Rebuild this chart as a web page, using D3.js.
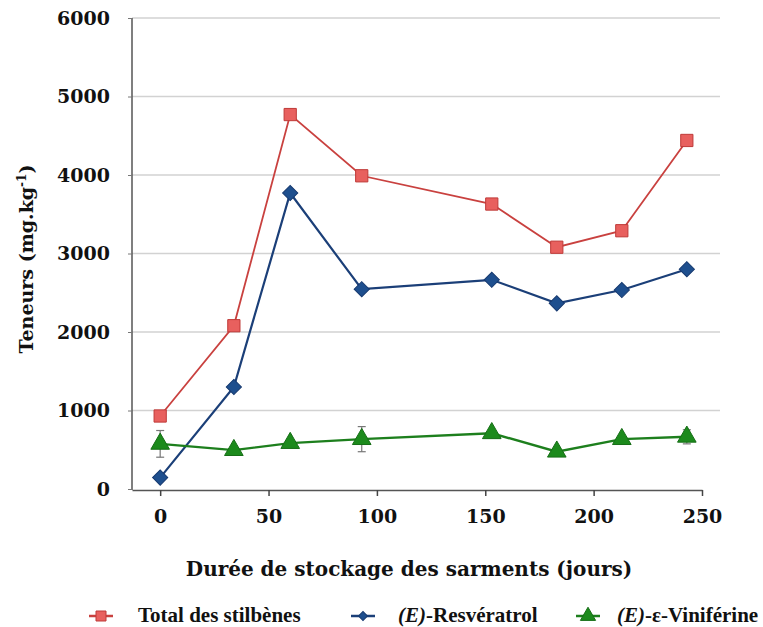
<!DOCTYPE html>
<html>
<head>
<meta charset="utf-8">
<script src="https://cdn.jsdelivr.net/npm/d3@7"></script>
<style>
  body { margin: 0; background: #fff; }
  svg text { font-family: "DejaVu Serif", serif; font-weight: bold; fill: #111; }
  .legend text { font-family: "Liberation Serif", serif; }
</style>
</head>
<body>
<div id="chart"></div>
<script>
var days = [0, 34, 60, 93, 153, 183, 213, 243];
var total = [930, 2080, 4770, 3990, 3630, 3080, 3290, 4440];
var resveratrol = [145, 1300, 3770, 2545, 2665, 2365, 2535, 2800];
var viniferine = [575, 495, 585, 635, 710, 475, 635, 665];
var viniferineErr = [170, 0, 0, 160, 0, 0, 0, 90];
var yTicks = [0, 1000, 2000, 3000, 4000, 5000, 6000];
var xTicks = [0, 50, 100, 150, 200, 250];

;(function(d3){
  var width = 763, height = 627;

  var svg = d3.select('#chart')
    .append('svg')
      .attr('width', width)
      .attr('height', height);

  var x = d3.scaleLinear().domain([-13, 250]).range([132, 702]);
  var y = d3.scaleLinear().domain([0, 6000]).range([489, 18]);

  // gridlines
  svg.append('g')
    .selectAll('line')
    .data(yTicks.filter(function(d){ return d > 0; }))
    .enter().append('line')
      .attr('x1', 132).attr('x2', 720)
      .attr('y1', function(d){ return y(d); })
      .attr('y2', function(d){ return y(d); })
      .attr('stroke', '#d2d2d2')
      .attr('stroke-width', 1.5);

  // y axis
  var yAxis = svg.append('g')
    .attr('transform', 'translate(132,0)')
    .call(d3.axisLeft(y).tickValues(yTicks).tickSize(4).tickFormat(d3.format('d')));
  yAxis.select('.domain').attr('stroke', '#555').attr('stroke-width', 1.5).attr('d', 'M0,18V490');
  yAxis.selectAll('.tick line').attr('stroke', '#777');
  yAxis.selectAll('.tick text')
    .attr('x', -22)
    .style('font-size', '19px')
    .style('font-family', '"DejaVu Serif", serif')
    .style('font-weight', 'bold')
    .attr('fill', '#111');

  // x axis
  var xAxis = svg.append('g')
    .attr('transform', 'translate(0,490)')
    .call(d3.axisBottom(x).tickValues(xTicks).tickSize(6).tickSizeOuter(0));
  xAxis.select('.domain').attr('stroke', '#555').attr('stroke-width', 1.5);
  xAxis.selectAll('.tick line').attr('stroke', '#444').attr('stroke-width', 1.5);
  xAxis.selectAll('.tick text')
    .attr('y', 20)
    .attr('dy', '0.71em')
    .style('font-size', '19px')
    .style('font-family', '"DejaVu Serif", serif')
    .style('font-weight', 'bold')
    .attr('fill', '#111');

  // titles
  svg.append('text')
    .attr('x', 409).attr('y', 576)
    .attr('text-anchor', 'middle')
    .style('font-size', '20px')
    .text('Durée de stockage des sarments (jours)');

  var yt = svg.append('text')
    .attr('transform', 'translate(33,259) rotate(-90)')
    .attr('text-anchor', 'middle')
    .style('font-size', '19px');
  yt.append('tspan').text('Teneurs (mg.kg');
  yt.append('tspan').attr('dy', -7).style('font-size', '12px').text('-1');
  yt.append('tspan').attr('dy', 7).text(')');

  var series = [
    { name: 'total', values: total, line: '#c9413f', fill: '#e8605e', stroke: '#bf3a38', symbol: d3.symbolSquare, size: 150, rot: 0, width: 1.8 },
    { name: 'resveratrol', values: resveratrol, line: '#1b3f78', fill: '#1e4f8e', stroke: '#173a70', symbol: d3.symbolSquare, size: 115, rot: 45, width: 2.2 },
    { name: 'viniferine', values: viniferine, line: '#1d7f1d', fill: '#1c8a1c', stroke: '#166e16', symbol: d3.symbolTriangle, size: 150, rot: 0, width: 2.4 }
  ];

  // error bars
  var err = svg.append('g');
  days.forEach(function(d, i){
    if (!viniferineErr[i]) return;
    var cx = x(d), lo = y(viniferine[i] - viniferineErr[i]), hi = y(viniferine[i] + viniferineErr[i]);
    err.append('line').attr('x1', cx).attr('x2', cx).attr('y1', lo).attr('y2', hi).attr('stroke', '#777').attr('stroke-width', 1.2);
    err.append('line').attr('x1', cx - 4).attr('x2', cx + 4).attr('y1', lo).attr('y2', lo).attr('stroke', '#777').attr('stroke-width', 1.2);
    err.append('line').attr('x1', cx - 4).attr('x2', cx + 4).attr('y1', hi).attr('y2', hi).attr('stroke', '#777').attr('stroke-width', 1.2);
  });

  var line = d3.line()
    .x(function(d){ return x(d[0]); })
    .y(function(d){ return y(d[1]); });

  series.forEach(function(s){
    var pts = days.map(function(d, i){ return [d, s.values[i]]; });
    svg.append('path')
      .attr('d', line(pts))
      .attr('fill', 'none')
      .attr('stroke', s.line)
      .attr('stroke-width', s.width);
    svg.append('g')
      .selectAll('path')
      .data(pts)
      .enter().append('path')
        .attr('transform', function(d){ return 'translate(' + x(d[0]) + ',' + y(d[1]) + ') rotate(' + s.rot + ')'; })
        .attr('d', d3.symbol().type(s.symbol).size(s.size))
        .attr('fill', s.fill)
        .attr('stroke', s.stroke)
        .attr('stroke-width', 1);
  });

  // legend
  var legendItems = [
    { s: series[0], cx: 101, tx: 138, size: 100, parts: [['', 'Total des stilbènes']] },
    { s: series[1], cx: 363, tx: 398, size: 40, parts: [['(E)', ''], ['', '-Resvératrol']] },
    { s: series[2], cx: 588, tx: 617, size: 100, parts: [['(E)', ''], ['', '-ε-Viniférine']] }
  ];
  var legend = svg.append('g').attr('class', 'legend');
  legendItems.forEach(function(it){
    var g = legend.append('g');
    g.append('line')
      .attr('x1', it.cx - 12).attr('x2', it.cx + 12)
      .attr('y1', 616).attr('y2', 616)
      .attr('stroke', it.s.line).attr('stroke-width', 2.5);
    g.append('path')
      .attr('transform', 'translate(' + it.cx + ',616) rotate(' + it.s.rot + ')')
      .attr('d', d3.symbol().type(it.s.symbol).size(it.size))
      .attr('fill', it.s.fill).attr('stroke', it.s.stroke);
    var t = g.append('text')
      .attr('x', it.tx).attr('y', 622)
      .style('font-size', '21px');
    it.parts.forEach(function(p){
      if (p[0]) t.append('tspan').style('font-style', 'italic').text(p[0]);
      if (p[1]) t.append('tspan').text(p[1]);
    });
  });
})(d3);
</script>
</body>
</html>
